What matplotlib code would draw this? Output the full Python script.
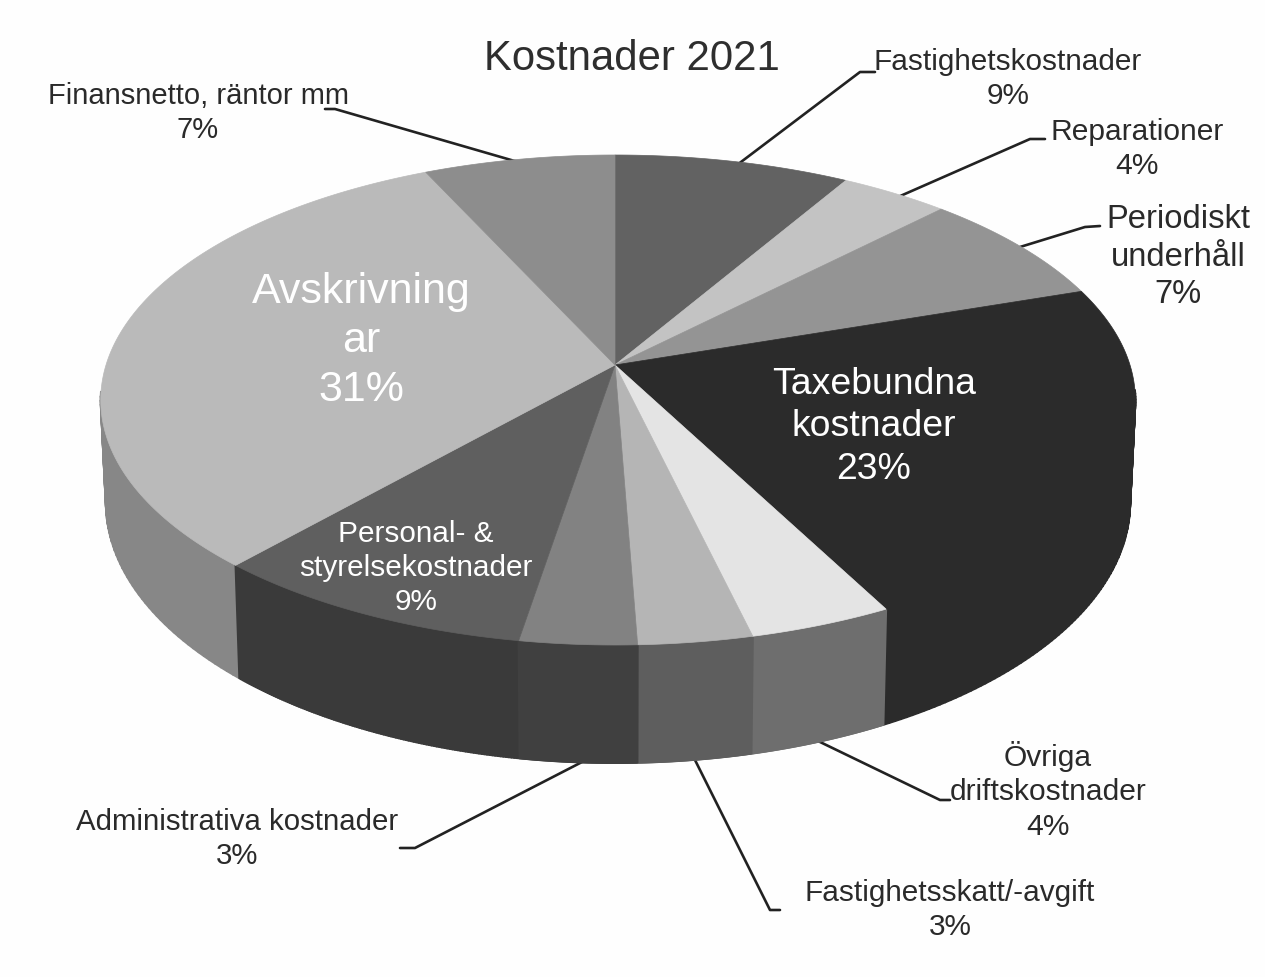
import numpy as np
import matplotlib
matplotlib.use('Agg')
import matplotlib.pyplot as plt
from matplotlib.collections import PolyCollection
from matplotlib.patches import Polygon

plt.rcParams['font.family'] = ['Liberation Sans', 'DejaVu Sans']

# --- DATA ---
names = ['Fastighetskostnader', 'Reparationer', 'Periodiskt\nunderhåll', 'Taxebundna\nkostnader',
         'Övriga\ndriftskostnader', 'Fastighetsskatt/-avgift', 'Administrativa kostnader',
         'Personal- &\nstyrelsekostnader', 'Avskrivning\nar', 'Finansnetto, räntor mm']
printed_pct = [9, 4, 7, 23, 4, 3, 3, 9, 31, 7]
# wedge sizes as measured on the picture (the printed labels are rounded)
shares = [8.4, 3.9, 7.5, 22.6, 3.9, 3.1, 3.2, 9.0, 31.5, 6.9]
top_colors = ['#626262', '#c3c3c3', '#949494', '#2b2b2b', '#e4e4e4',
              '#b5b5b5', '#828282', '#5f5f5f', '#bababa', '#8d8d8d']
side_colors = ['#404040', '#808080', '#606060', '#2b2b2b', '#6e6e6e',
               '#5e5e5e', '#404040', '#3a3a3a', '#878787', '#5c5c5c']

# --- LAYOUT (pixels of the 1265x977 picture) ---
CX, CY = 615, 365
RX_RIGHT, RX_LEFT, RY, PERSP = 515, 509, 240, 1 / 7
DEPTH, Y_GROW, X_SHRINK = 100, 1.064, 0.99

label_pos = [(1008, 79), (1137, 149), (1178, 257), (874, 427), (1048, 791),
             (950, 910), (237, 839), (416, 568), (361, 341), (198, 113)]
label_size = [21.4, 21.6, 23.6, 26.9, 21.6, 21.4, 21.2, 21.4, 31, 21]
label_color = ['#2a2a2a'] * 3 + ['white'] + ['#2a2a2a'] * 3 + ['white', 'white', '#2a2a2a']
leaders = [[(875, 72), (860, 72), (737, 165)],
           [(1045, 139), (1030, 139), (898, 197)],
           [(1100, 226), (1085, 227), (1020, 247)],
           [(950, 800), (940, 800), (818, 741)],
           [(780, 910), (770, 910), (695, 760)],
           [(400, 848), (415, 848), (582, 762)],
           [(325, 109), (335, 109), (518, 162)]]


def rim(theta):
    """ Punto del borde superior, con perspectiva. theta en radianes, 0 arriba, horario. """
    s = 1 / (1 + PERSP * np.cos(theta))
    rx = np.where(np.sin(theta) >= 0, RX_RIGHT, RX_LEFT)
    return CX + rx * np.sin(theta) * s, CY - RY * np.cos(theta) * s


def bajo(x, y):
    """ Proyecta el borde superior al borde inferior de la pared. """
    return CX + (x - CX) * X_SHRINK, CY + DEPTH + (y - CY) * Y_GROW


fig = plt.figure(figsize=(12.65, 9.77), dpi=100, facecolor='#fefefe')
ax = fig.add_axes([0, 0, 1, 1])
ax.set_xlim(0, 1265)
ax.set_ylim(977, 0)
ax.axis('off')

edges = np.cumsum([0] + shares) / sum(shares) * 2 * np.pi
arcs = [np.linspace(a, b, 120) for a, b in zip(edges[:-1], edges[1:])]

# solo paredes del frente, en tiras para que no se crucen los dos bordes
order = sorted(range(len(shares)), key=lambda k: -np.cos(arcs[k]).mean())
for n, k in enumerate(order):
    front = arcs[k][np.cos(arcs[k]) < -0.1]
    if len(front) < 2:
        continue
    x, y = rim(front)
    xb, yb = bajo(x, y)
    strips = [[(x[i], y[i]), (x[i + 1], y[i + 1]), (xb[i + 1], yb[i + 1]), (xb[i], yb[i])]
              for i in range(len(x) - 1)]
    ax.add_collection(PolyCollection(strips, facecolors=side_colors[k], edgecolors=side_colors[k],
                                     linewidths=1.5, zorder=2 + n * 0.01))

for k in range(len(shares)):
    x, y = rim(arcs[k])
    pts = np.r_[[[CX, CY]], np.c_[x, y]]
    ax.add_patch(Polygon(pts, fc=top_colors[k], ec=top_colors[k], lw=0.5, zorder=3))

for line in leaders:
    xs, ys = zip(*line)
    ax.plot(xs, ys, color='#222222', lw=1.9, zorder=1, solid_capstyle='round')

for name, pct, pos, size, col in zip(names, printed_pct, label_pos, label_size, label_color):
    ax.text(pos[0], pos[1], f'{name}\n{pct}%', fontsize=size, color=col, ha='center', va='center',
            linespacing=1.28, zorder=5)

ax.text(632, 59, 'Kostnader 2021', fontsize=30.2, color='#2e2e2e', ha='center', va='center', zorder=5)

fig.savefig('out.png', dpi=100, facecolor=fig.get_facecolor())
